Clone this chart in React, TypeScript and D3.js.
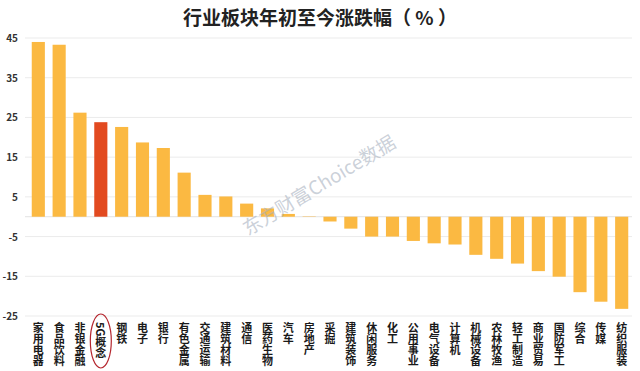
import { useEffect, useRef } from "react";
import * as d3 from "d3";

const categories = [
  "家用电器", "食品饮料", "非银金融", "5G概念", "钢铁", "电子", "银行", "有色金属",
  "交通运输", "建筑材料", "通信", "医药生物", "汽车", "房地产", "采掘", "建筑装饰",
  "休闲服务", "化工", "公用事业", "电气设备", "计算机", "机械设备", "农林牧渔",
  "轻工制造", "商业贸易", "国防军工", "综合", "传媒", "纺织服装",
];
const changes = [
  44.0, 43.3, 26.2, 23.8, 22.6, 18.7, 17.3, 11.1, 5.5, 5.1, 3.3, 2.1, 0.7, 0.1,
  -1.2, -3.0, -5.0, -5.0, -6.1, -6.7, -7.0, -9.6, -10.6, -11.8, -13.7, -15.1,
  -19.0, -21.4, -23.2,
];
const yTicks = [45, 35, 25, 15, 5, -5, -15, -25];
const highlight = "5G概念";
const title = "行业板块年初至今涨跌幅（ % ）";
const watermark = "东方财富Choice数据";

const W = 640, H = 371;
const FONT = "'Noto Sans CJK SC', 'Noto Sans', sans-serif";

const App = () => {
  const ref = useRef<SVGSVGElement>(null);

  useEffect(() => {
    const svg = d3.select(ref.current);
    svg.selectAll("*").remove();

    const x = d3.scaleBand<string>()
      .domain(categories)
      .range([28, 632])
      .paddingInner(0.37)
      .paddingOuter(0.18);
    const y = d3.scaleLinear().domain([-25, 45]).range([316, 38]);

    // title
    svg.append("text")
      .attr("x", W / 2)
      .attr("y", 25)
      .attr("text-anchor", "middle")
      .attr("font-family", FONT)
      .attr("font-weight", 700)
      .attr("font-size", 19)
      .attr("fill", "#222")
      .text(title);

    // grid
    const grid = svg.append("g");
    grid.selectAll("line")
      .data(yTicks)
      .join("line")
      .attr("x1", 25)
      .attr("x2", 632)
      .attr("y1", d => y(d))
      .attr("y2", d => y(d))
      .attr("stroke", "#ebebeb")
      .attr("stroke-width", 1);
    grid.append("line")
      .attr("x1", 25).attr("x2", 632)
      .attr("y1", y(0)).attr("y2", y(0))
      .attr("stroke", "#e2e2e2");

    // y tick labels
    svg.append("g")
      .selectAll("text")
      .data(yTicks)
      .join("text")
      .attr("x", 18)
      .attr("y", d => y(d) + 4)
      .attr("text-anchor", "end")
      .attr("font-family", FONT)
      .attr("font-weight", 700)
      .attr("font-size", 10)
      .attr("fill", "#333")
      .text(d => d);

    // bars
    svg.append("g")
      .selectAll("rect")
      .data(categories)
      .join("rect")
      .attr("x", d => x(d)!)
      .attr("width", x.bandwidth())
      .attr("y", (d, i) => y(Math.max(0, changes[i])))
      .attr("height", (d, i) => Math.abs(y(changes[i]) - y(0)))
      .attr("fill", d => (d === highlight ? "#e24a20" : "#fbb942"));

    // watermark
    svg.append("text")
      .attr("transform", "translate(248,236) rotate(-31)")
      .attr("font-family", FONT)
      .attr("font-size", 19)
      .attr("fill", "#a9b2c0")
      .attr("fill-opacity", 0.6)
      .text(watermark);

    // category labels, vertical
    svg.append("g")
      .selectAll("text")
      .data(categories)
      .join("text")
      .attr("x", d => x(d)! + x.bandwidth() / 2)
      .attr("y", 322)
      .attr("font-family", FONT)
      .attr("font-weight", 700)
      .attr("font-size", 11)
      .attr("fill", "#1a1a1a")
      .style("writing-mode", "vertical-rl")
      .text(d => d);

    // circle around highlighted label
    const hx = x(highlight)! + x.bandwidth() / 2;
    svg.append("ellipse")
      .attr("cx", hx)
      .attr("cy", 341)
      .attr("rx", 10.5)
      .attr("ry", 27)
      .attr("fill", "none")
      .attr("stroke", "#b5272f")
      .attr("stroke-width", 1.2);
  }, []);

  return (
    <svg
      ref={ref}
      width={W}
      height={H}
      style={{ position: "absolute", left: 0, top: 0, background: "#fff" }}
    />
  );
};

export default App;
